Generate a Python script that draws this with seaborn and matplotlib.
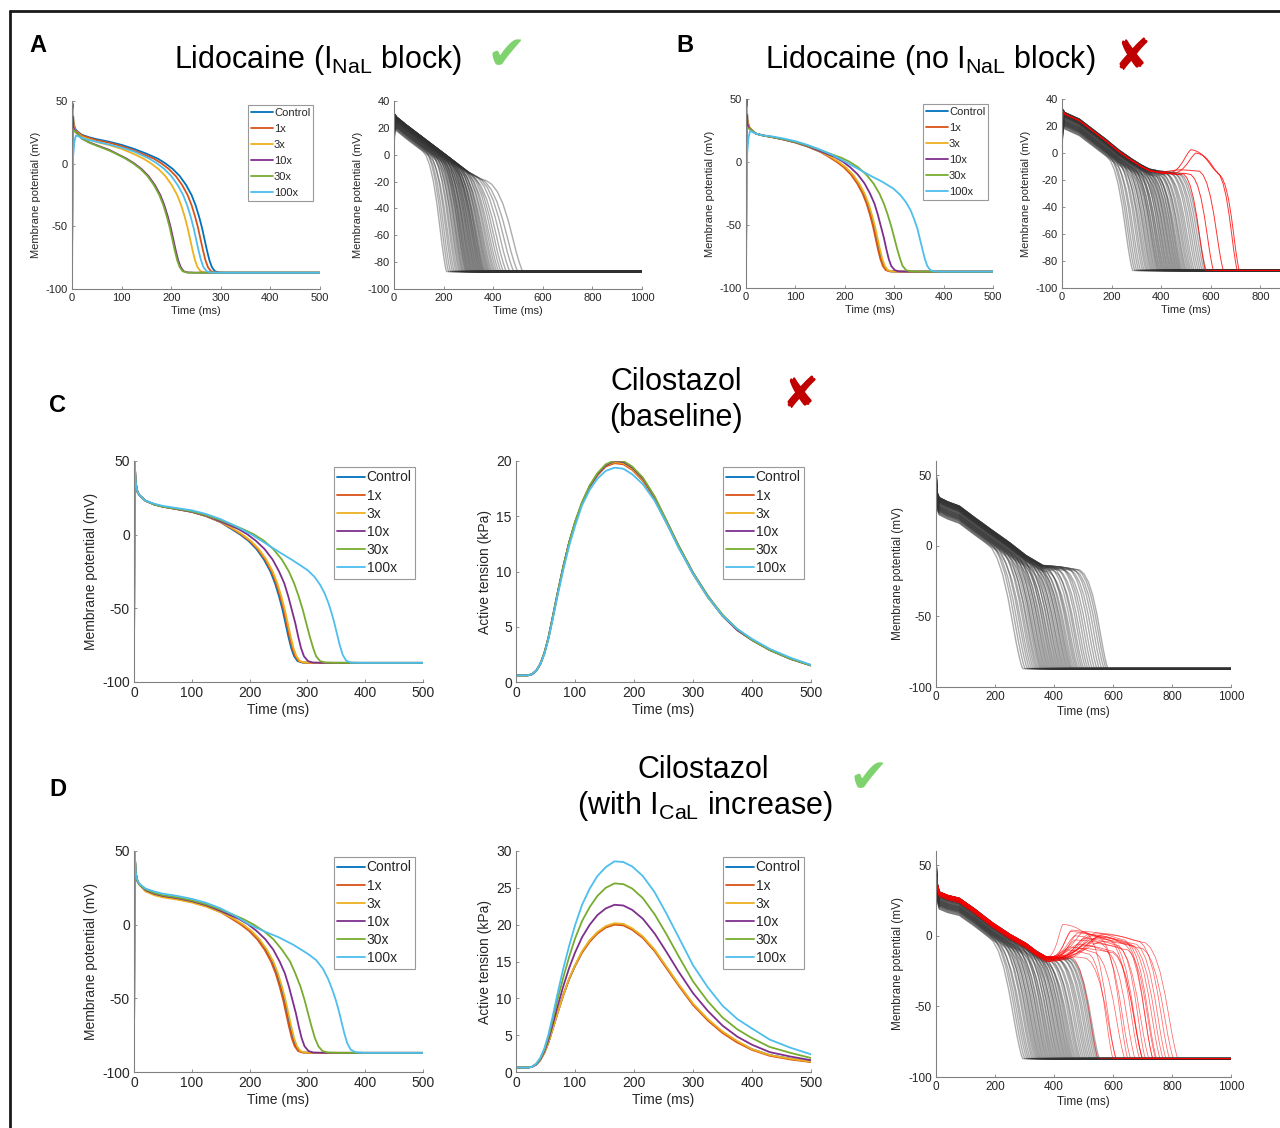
import numpy as np
import pandas as pd
import matplotlib
matplotlib.use("Agg")
import matplotlib.pyplot as plt
from matplotlib.lines import Line2D
import seaborn as sns

sns.set_theme(style="white")
plt.rcParams['font.family'] = ['Liberation Sans', 'DejaVu Sans']
plt.rcParams['mathtext.default'] = 'regular'
plt.rcParams['axes.unicode_minus'] = False

# ---------------- data ----------------
series = ["Control", "1x", "3x", "10x", "30x", "100x"]
series_colors = ["#0072BD", "#D95319", "#EDB120", "#7E2F8E", "#77AC30", "#4DBEEE"]
REST = -87

# A: Lidocaine (INaL block) - action potentials (ms, mV)
a_ap_t = [
    [0, 1, 3, 6, 10, 20, 35, 50, 75, 100, 125, 150, 173, 188, 203, 217, 230, 241, 249, 256, 262, 267, 272, 277, 282, 288, 296, 311, 500],
    [0, 1, 3, 6, 10, 20, 35, 50, 75, 100, 125, 150, 165, 180, 195, 209, 222, 233, 241, 248, 254, 259, 264, 269, 274, 280, 288, 303, 500],
    [0, 1, 3, 6, 10, 20, 35, 50, 75, 100, 125, 144, 159, 174, 188, 201, 212, 220, 227, 233, 238, 243, 248, 253, 259, 267, 282, 500],
    [0, 1, 3, 6, 10, 20, 35, 50, 75, 95, 110, 125, 140, 154, 167, 178, 186, 193, 199, 204, 209, 214, 219, 225, 233, 248, 500],
    [0, 1, 3, 6, 10, 20, 35, 50, 75, 95, 108, 123, 138, 152, 165, 176, 184, 191, 197, 202, 207, 212, 217, 223, 231, 246, 500],
    [0, 2, 5, 8, 12, 20, 35, 50, 75, 100, 125, 156, 171, 186, 200, 213, 224, 232, 239, 245, 250, 255, 260, 265, 271, 279, 294, 500],
]
a_ap_v = [
    [-87, 48, 33, 28, 26, 23, 21, 19.5, 17.5, 15, 11.8, 8, 4, 0.3, -4.2, -9.8, -17, -25, -33, -42, -51, -60, -69, -77, -82.5, -85.8, -86.8, -87, -87],
    [-87, 45, 32, 27, 25.5, 22.5, 20.5, 18.7, 16.7, 14, 10.5, 6.5, 4, 0.3, -4.2, -9.8, -17, -25, -33, -42, -51, -60, -69, -77, -82.5, -85.8, -86.8, -87, -87],
    [-87, 44, 31, 26.5, 25, 21.5, 19.3, 17.3, 14.8, 11.8, 7.7, 4, 0.3, -4.2, -9.8, -17, -25, -33, -42, -51, -60, -69, -77, -82.5, -85.8, -86.8, -87, -87],
    [-87, 38, 29, 26, 24.5, 20, 17, 14.7, 11, 7, 4, 0.3, -4.2, -9.8, -17, -25, -33, -42, -51, -60, -69, -77, -82.5, -85.8, -86.8, -87, -87],
    [-87, 28, 27, 25.5, 24, 20, 16.7, 14.3, 10.5, 6.7, 4, 0.3, -4.2, -9.8, -17, -25, -33, -42, -51, -60, -69, -77, -82.5, -85.8, -86.8, -87, -87],
    [-87, 5, 18, 22.5, 22, 20.5, 18.8, 17.5, 15.3, 12.8, 9.7, 4, 0.3, -4.2, -9.8, -17, -25, -33, -42, -51, -60, -69, -77, -82.5, -85.8, -86.8, -87, -87],
]

# B: Lidocaine (no INaL block)
b_ap_t = [
    [0, 1, 3, 6, 10, 20, 35, 50, 75, 100, 125, 150, 170, 185, 200, 214, 227, 238, 246, 253, 259, 264, 269, 274, 279, 285, 293, 308, 500],
    [0, 1, 3, 6, 10, 20, 35, 50, 75, 100, 125, 150, 168, 183, 198, 212, 225, 236, 244, 251, 257, 262, 267, 272, 277, 283, 291, 306, 500],
    [0, 1, 3, 6, 10, 20, 35, 50, 75, 100, 125, 150, 172, 187, 202, 216, 229, 240, 248, 255, 261, 266, 271, 276, 281, 287, 295, 310, 500],
    [0, 1, 3, 6, 10, 20, 35, 50, 75, 100, 125, 150, 180, 196, 211, 226, 240, 251, 260, 267, 273, 279, 284, 289, 294, 301, 309, 325, 500],
    [0, 1, 3, 6, 10, 20, 35, 50, 75, 100, 125, 150, 172, 192, 209, 227, 243, 258, 270, 279, 287, 294, 300, 306, 312, 317, 324, 333, 351, 500],
    [0, 2, 5, 8, 12, 20, 35, 50, 75, 100, 125, 150, 175, 202, 225, 250, 275, 298, 312, 324, 334, 341, 347, 352, 357, 362, 367, 373, 381, 396, 500],
]
b_ap_v = [
    [-87, 50, 33, 28, 26, 22.5, 21, 20, 18, 15.5, 12.3, 8.2, 4, 0.3, -4.2, -9.8, -17, -25, -33, -42, -51, -60, -69, -77, -82.5, -85.8, -86.8, -87, -87],
    [-87, 47, 33, 28, 26, 22.5, 21, 20, 18, 15.5, 12.3, 8.2, 4, 0.3, -4.2, -9.8, -17, -25, -33, -42, -51, -60, -69, -77, -82.5, -85.8, -86.8, -87, -87],
    [-87, 44, 32, 28, 26, 22.5, 21, 20, 18, 15.5, 12.3, 8.2, 4, 0.3, -4.2, -9.8, -17, -25, -33, -42, -51, -60, -69, -77, -82.5, -85.8, -86.8, -87, -87],
    [-87, 38, 30, 27, 25.5, 22.5, 21, 20, 18, 15.7, 12.5, 8.6, 4, 0.3, -4.2, -9.8, -17, -25, -33, -42, -51, -60, -69, -77, -82.5, -85.8, -86.8, -87, -87],
    [-87, 28, 27, 26.5, 25.5, 22.5, 21, 20, 18.2, 16, 13, 9.6, 6.3, 3.5, 0.3, -4.2, -9.8, -17, -25, -33, -42, -51, -60, -69, -77, -82.5, -85.8, -86.8, -87, -87],
    [-87, 5, 19, 24.5, 24, 22.5, 21, 20.5, 18.7, 16.5, 13.5, 9.8, 5.5, 0, -5, -10.5, -15.5, -21, -26, -32, -39, -46, -53, -61, -69, -77, -82.5, -85.8, -86.8, -87, -87],
]

# C: Cilostazol (baseline)
c_ap_t = [
    [0, 1, 3, 6, 10, 20, 35, 50, 75, 100, 125, 150, 168, 183, 198, 212, 225, 236, 244, 251, 257, 262, 267, 272, 277, 283, 291, 306, 500],
    [0, 1, 3, 6, 10, 20, 35, 50, 75, 100, 125, 150, 170, 185, 200, 214, 227, 238, 246, 253, 259, 264, 269, 274, 279, 285, 293, 308, 500],
    [0, 1, 3, 6, 10, 20, 35, 50, 75, 100, 125, 150, 172, 187, 202, 216, 229, 240, 248, 255, 261, 266, 271, 276, 281, 287, 295, 310, 500],
    [0, 1, 3, 6, 10, 20, 35, 50, 75, 100, 125, 150, 180, 196, 211, 226, 240, 251, 260, 267, 273, 279, 284, 289, 294, 301, 309, 325, 500],
    [0, 1, 3, 6, 10, 20, 35, 50, 75, 100, 125, 150, 170, 190, 207, 225, 241, 256, 268, 277, 285, 292, 298, 304, 310, 315, 322, 331, 349, 500],
    [0, 1, 3, 6, 10, 20, 35, 50, 75, 100, 125, 150, 175, 204, 228, 250, 275, 300, 312, 322, 330, 336, 341, 346, 351, 356, 361, 367, 375, 390, 500],
]
c_ap_v = [
    [-87, 50, 35, 29, 26.5, 23, 20.5, 19, 17.3, 15.5, 12.6, 8.4, 4, 0.3, -4.2, -9.8, -17, -25, -33, -42, -51, -60, -69, -77, -82.5, -85.8, -86.8, -87, -87],
    [-87, 50, 35, 29, 26.5, 23, 20.5, 19, 17.3, 15.5, 12.6, 8.5, 4, 0.3, -4.2, -9.8, -17, -25, -33, -42, -51, -60, -69, -77, -82.5, -85.8, -86.8, -87, -87],
    [-87, 50, 35, 29, 26.5, 23, 20.5, 19, 17.3, 15.5, 12.6, 8.7, 4, 0.3, -4.2, -9.8, -17, -25, -33, -42, -51, -60, -69, -77, -82.5, -85.8, -86.8, -87, -87],
    [-87, 50, 35, 29, 26.5, 23, 20.5, 19, 17.3, 15.5, 12.8, 9.0, 4, 0.3, -4.2, -9.8, -17, -25, -33, -42, -51, -60, -69, -77, -82.5, -85.8, -86.8, -87, -87],
    [-87, 50, 35, 29, 26.5, 23, 20.5, 19, 17.5, 15.8, 13.2, 9.8, 6.7, 3.5, 0.3, -4.2, -9.8, -17, -25, -33, -42, -51, -60, -69, -77, -82.5, -85.8, -86.8, -87, -87],
    [-87, 50, 35, 29, 26.5, 23, 21, 19.5, 18, 16.5, 14, 10.5, 6, 0, -6, -11.5, -17.5, -24, -28.5, -34, -40, -46, -52, -59, -67, -75, -81.5, -85.5, -86.8, -87, -87],
]

# D: Cilostazol (with ICaL increase)
d_ap_t = [
    [0, 1, 3, 6, 10, 20, 35, 50, 75, 100, 125, 150, 171, 186, 201, 215, 228, 239, 247, 254, 260, 265, 270, 275, 280, 286, 294, 309, 500],
    [0, 1, 3, 6, 10, 20, 35, 50, 75, 100, 125, 150, 169, 184, 199, 213, 226, 237, 245, 252, 258, 263, 268, 273, 278, 284, 292, 307, 500],
    [0, 1, 3, 6, 10, 20, 35, 50, 75, 100, 125, 150, 173, 188, 203, 217, 230, 241, 249, 256, 262, 267, 272, 277, 282, 288, 296, 311, 500],
    [0, 1, 3, 6, 10, 20, 35, 50, 75, 100, 125, 150, 181, 197, 212, 227, 241, 252, 261, 268, 274, 280, 285, 290, 295, 302, 310, 326, 500],
    [0, 1, 3, 6, 10, 20, 35, 50, 75, 100, 125, 150, 170, 188, 206, 224, 241, 256, 270, 279, 288, 295, 301, 307, 313, 319, 326, 336, 354, 500],
    [0, 1, 3, 6, 10, 20, 35, 50, 75, 100, 125, 150, 175, 200, 225, 250, 275, 300, 315, 327, 336, 343, 349, 354, 359, 364, 369, 375, 383, 398, 500],
]
d_ap_v = [
    [-87, 50, 35, 29.5, 27, 23.5, 21, 19.5, 18, 16, 13, 8.8, 4, 0.3, -4.2, -9.8, -17, -25, -33, -42, -51, -60, -69, -77, -82.5, -85.8, -86.8, -87, -87],
    [-87, 50, 35, 29.5, 27, 23, 20.5, 19, 17.5, 15.5, 12.5, 8.5, 4, 0.3, -4.2, -9.8, -17, -25, -33, -42, -51, -60, -69, -77, -82.5, -85.8, -86.8, -87, -87],
    [-87, 50, 35, 29.5, 27, 22.5, 20, 18.5, 17, 15, 12.2, 8.4, 4, 0.3, -4.2, -9.8, -17, -25, -33, -42, -51, -60, -69, -77, -82.5, -85.8, -86.8, -87, -87],
    [-87, 50, 35, 29.5, 27, 23.5, 21, 19.5, 18, 16, 13.2, 9.3, 4, 0.3, -4.2, -9.8, -17, -25, -33, -42, -51, -60, -69, -77, -82.5, -85.8, -86.8, -87, -87],
    [-87, 50, 35, 29.5, 27, 24, 21.5, 20, 18.5, 16.5, 13.8, 10.2, 7, 4, 0.3, -4.2, -9.8, -17, -25, -33, -42, -51, -60, -69, -77, -82.5, -85.8, -86.8, -87, -87],
    [-87, 50, 35, 30, 27.5, 24.5, 22.5, 21, 19.5, 17.5, 14.8, 11, 6, 0, -4.5, -8.5, -13.5, -19.6, -24, -30, -37, -44, -51, -58, -66, -74, -80.5, -84.8, -86.6, -87, -87],
]

# active tension (kPa)
ten_t = [0, 20, 27, 34, 41, 48, 55, 62, 70, 80, 90, 100, 112, 125, 138, 152,
         167, 182, 197, 215, 235, 255, 275, 300, 325, 350, 375, 400, 430, 465, 500]
c_ten = [
    [0.6, 0.6, 0.7, 1.0, 1.6, 2.6, 4.0, 5.8, 7.9, 10.4, 12.6, 14.4, 16.2, 17.7, 18.8, 19.6, 19.9, 19.8, 19.3, 18.3, 16.6, 14.5, 12.3, 9.8, 7.7, 6.0, 4.7, 3.8, 2.9, 2.1, 1.5],
    [0.6, 0.6, 0.7, 1.0, 1.6, 2.6, 4.0, 5.8, 7.9, 10.4, 12.6, 14.4, 16.2, 17.7, 18.7, 19.5, 19.8, 19.7, 19.2, 18.2, 16.5, 14.4, 12.3, 9.8, 7.7, 6.0, 4.7, 3.8, 2.9, 2.1, 1.5],
    [0.6, 0.6, 0.7, 1.0, 1.6, 2.6, 4.0, 5.8, 7.9, 10.4, 12.6, 14.4, 16.2, 17.7, 18.8, 19.6, 19.9, 19.8, 19.3, 18.3, 16.6, 14.5, 12.3, 9.8, 7.7, 6.0, 4.7, 3.8, 2.9, 2.1, 1.5],
    [0.6, 0.6, 0.7, 1.0, 1.6, 2.6, 4.0, 5.8, 7.9, 10.4, 12.6, 14.4, 16.2, 17.7, 18.8, 19.6, 20.0, 19.9, 19.4, 18.4, 16.7, 14.6, 12.4, 9.9, 7.8, 6.0, 4.7, 3.8, 2.9, 2.1, 1.5],
    [0.6, 0.6, 0.7, 1.0, 1.6, 2.6, 4.0, 5.8, 7.9, 10.4, 12.6, 14.5, 16.3, 17.8, 18.9, 19.7, 20.05, 20.0, 19.5, 18.5, 16.8, 14.6, 12.4, 9.9, 7.8, 6.1, 4.8, 3.8, 2.9, 2.1, 1.5],
    [0.6, 0.6, 0.7, 1.0, 1.6, 2.5, 3.9, 5.6, 7.7, 10.1, 12.3, 14.1, 16.0, 17.4, 18.4, 19.1, 19.4, 19.3, 18.8, 17.9, 16.4, 14.4, 12.2, 9.8, 7.7, 6.0, 4.8, 3.9, 3.0, 2.2, 1.55],
]
d_ten = [
    [0.6, 0.6, 0.7, 1.0, 1.6, 2.6, 4.0, 5.8, 7.9, 10.4, 12.6, 14.4, 16.3, 17.8, 18.9, 19.7, 20.1, 20.0, 19.4, 18.3, 16.5, 14.2, 11.9, 9.2, 7.1, 5.4, 4.1, 3.1, 2.3, 1.8, 1.4],
    [0.6, 0.6, 0.7, 1.0, 1.6, 2.6, 4.0, 5.8, 7.9, 10.4, 12.6, 14.4, 16.2, 17.7, 18.8, 19.6, 20.0, 19.9, 19.3, 18.2, 16.4, 14.1, 11.8, 9.1, 7.0, 5.3, 4.0, 3.0, 2.2, 1.7, 1.35],
    [0.6, 0.6, 0.7, 1.0, 1.6, 2.6, 4.0, 5.8, 7.9, 10.4, 12.7, 14.5, 16.4, 17.9, 19.0, 19.8, 20.2, 20.1, 19.5, 18.4, 16.6, 14.3, 12.0, 9.3, 7.2, 5.5, 4.2, 3.1, 2.3, 1.8, 1.4],
    [0.6, 0.6, 0.7, 1.0, 1.7, 2.8, 4.4, 6.4, 8.8, 11.6, 14.1, 16.2, 18.3, 20.0, 21.3, 22.2, 22.7, 22.6, 22.0, 20.8, 18.8, 16.3, 13.7, 10.7, 8.3, 6.3, 4.8, 3.7, 2.7, 2.1, 1.6],
    [0.6, 0.6, 0.7, 1.1, 1.8, 3.0, 4.8, 7.0, 9.7, 12.8, 15.6, 18.1, 20.5, 22.4, 23.9, 25.0, 25.6, 25.5, 24.9, 23.6, 21.4, 18.7, 15.8, 12.3, 9.6, 7.4, 5.8, 4.6, 3.4, 2.6, 1.9],
    [0.6, 0.6, 0.7, 1.1, 1.9, 3.2, 5.1, 7.5, 10.5, 14.0, 17.1, 19.9, 22.7, 24.9, 26.6, 27.8, 28.6, 28.5, 27.9, 26.6, 24.4, 21.5, 18.4, 14.5, 11.5, 9.0, 7.2, 5.9, 4.4, 3.3, 2.4],
]

# populations of models: shared upper path, each model leaves it at its knee
a_path_t = [0, 1, 3, 10, 50, 100, 150, 200, 250, 300, 350, 400, 450, 500]
a_path_v = [-87, 20, 30, 28, 22, 15, 8, 1, -6, -13, -18, -21, -24, -27]
a_pop_knee = [115, 122, 129, 135, 141, 147, 152, 157, 161, 165,
              168, 171, 174, 177, 179, 181, 183, 186, 188, 190,
              193, 195, 197, 199, 202, 204, 206, 208, 211, 213,
              215, 217, 220, 222, 224, 226, 229, 231, 233, 235,
              238, 241, 245, 248, 251, 255, 259, 264, 269, 275,
              281, 289, 297, 307, 318, 331, 345, 372]
a_pop_end = [212, 220, 228, 236, 243, 250, 256, 262, 267, 272,
             276, 280, 284, 288, 291, 294, 297, 300, 303, 306,
             309, 312, 315, 318, 321, 324, 327, 330, 333, 336,
             339, 342, 345, 348, 351, 354, 357, 360, 363, 366,
             370, 374, 378, 382, 386, 391, 396, 402, 408, 415,
             423, 432, 442, 454, 468, 484, 500, 520]
a_pop_shift = [-10, -8, -9, -7, -10, -6, -8, -5, -9, -7,
               -4, -8, -6, -3, -7, -5, -2, -7, -4, -6,
               -1, -5, -3, -6, -2, -4, 0, -5, -3, -1,
               -4, -2, 0, -3, -1, -2, -4, 0, -2, -1,
               -3, 0, -1, -2, 0, -1, -2, 0, -1, 0,
               -1, 0, 0, -1, 0, 0, 0, 0]

b_path_t = [0, 1, 4, 10, 70, 120, 177, 230, 285, 320, 352, 392, 450, 520, 600]
b_path_v = [-87, 20, 32, 30, 25, 18, 10, 2, -5, -9, -12, -13.5, -14.5, -16, -18]
b_pop_knee = [180, 187, 195, 204, 212, 219, 227, 233, 240, 246,
              251, 257, 262, 267, 271, 277, 281, 285, 289, 292,
              297, 301, 305, 308, 313, 317, 321, 325, 329, 333,
              337, 341, 344, 349, 353, 357, 361, 365, 369, 373,
              377, 382, 387, 392, 397, 403, 409, 415, 422, 429,
              437, 445, 453, 461, 469, 477]
b_pop_end = [285, 293, 301, 309, 317, 325, 332, 339, 345, 351,
             357, 362, 367, 372, 377, 382, 386, 390, 394, 398,
             402, 406, 410, 414, 418, 422, 426, 430, 434, 438,
             442, 446, 450, 454, 458, 462, 466, 470, 474, 478,
             482, 487, 492, 497, 502, 508, 514, 520, 527, 534,
             542, 550, 558, 566, 574, 582]
pop_shift = [-12, -10, -11, -9, -12, -8, -10, -7, -11, -9,
             -6, -10, -8, -5, -9, -7, -4, -9, -6, -8,
             -3, -7, -5, -8, -3, -6, -2, -7, -4, -2,
             -6, -3, -1, -5, -3, -2, -4, -1, -3, 0,
             -2, -4, -1, 0, -3, -1, -2, 0, -1, -2,
             0, -1, 0, -1, 0, 0]
# red models with early afterdepolarisations (B)
b_red_rise = [430, 445, 380, 470, 480]
b_red_peak_t = [520, 540, 470, 475, 485]
b_red_peak_v = [2.5, 0, -12.5, -15, -15]
b_red_fall_t = [625, 635, 555, 490, 520]
b_red_fall_v = [-14, -16, -13.5, -15.5, -16]
b_red_end = [707, 715, 651, 579, 611]

c_path_t = [0, 1, 3, 11, 40, 79, 130, 192, 250, 305, 362, 420, 510, 600]
c_path_v = [-87, 50, 38, 34, 31, 28, 20, 10.6, 2, -7, -14, -15, -18, -20]
c_pop_knee = [170, 178, 187, 195, 202, 209, 215, 221, 226, 232,
              236, 241, 245, 250, 254, 259, 263, 268, 272, 277,
              281, 286, 291, 295, 300, 304, 309, 313, 318, 322,
              327, 331, 336, 340, 345, 349, 354, 358, 364, 370,
              375, 381, 387, 394, 400, 408, 415, 423, 431, 440,
              448, 457, 465, 474, 481, 488]
c_pop_end = [294, 302, 310, 317, 324, 330, 336, 341, 346, 351,
             355, 359, 363, 367, 371, 375, 379, 383, 387, 391,
             395, 399, 403, 407, 411, 415, 419, 423, 427, 431,
             435, 439, 443, 447, 451, 455, 459, 463, 468, 473,
             478, 483, 489, 495, 501, 508, 515, 522, 530, 538,
             546, 554, 562, 570, 577, 583]

d_path_t = [0, 1, 3, 11, 40, 79, 130, 192, 250, 305, 340, 373, 420, 510, 600]
d_path_v = [-87, 50, 38, 31, 28.5, 26.5, 19, 9, 1, -5.5, -11, -15, -15.5, -17, -19]
d_pop_knee = [176, 183, 191, 197, 204, 210, 216, 221, 226, 231,
              235, 240, 244, 248, 253, 257, 262, 266, 270, 275,
              279, 284, 288, 293, 297, 301, 306, 310, 315, 319,
              323, 328, 332, 337, 341, 346, 350, 354, 359, 363,
              369, 374, 380, 385, 390, 397, 403, 410, 416, 422,
              429, 435, 442, 448, 454, 459]
d_pop_end = [294, 301, 308, 314, 320, 326, 331, 336, 341, 345,
             349, 353, 357, 361, 365, 369, 373, 377, 381, 385,
             389, 393, 397, 401, 405, 409, 413, 417, 421, 425,
             429, 433, 437, 441, 445, 449, 453, 457, 461, 465,
             470, 475, 480, 485, 490, 496, 502, 508, 514, 520,
             526, 532, 538, 544, 549, 554]
# red models with early afterdepolarisations (D)
d_red_shift = [0, -1, -2, 0, -1, -3, 0, -2, -1, 0, -2, -1, 0, -3, -1, 0, -2, -1, 0, -2, -1, 0, -3, -1]
d_red_rise = [380, 385, 390, 395, 400, 385, 410, 420, 400, 390, 380, 400, 410, 395, 420, 380, 373,
              373, 390, 400, 415, 405, 385, 395]
d_red_peak_t = [430, 460, 480, 500, 520, 470, 540, 560, 510, 480, 450, 530, 560, 500, 550, 440, 420,
                470, 470, 500, 545, 515, 455, 490]
d_red_peak_v = [8, 4, 2, 3, 0, -3, 2, 1, -5, -6, -8, -2, -4, -7, 0, -10, -14, -15, 0, -2, -1, 1, 3, -9]
d_red_fall_t = [510, 560, 600, 640, 660, 620, 690, 710, 650, 580, 540, 670, 700, 600, 640, 520, 460,
                510, 560, 620, 680, 650, 590, 600]
d_red_fall_v = [2, -2, -4, -3, -6, -8, -4, -5, -10, -11, -12, -7, -9, -11, -6, -13, -15, -16, -5, -7,
                -6, -5, -3, -12]
d_red_end = [610, 650, 700, 735, 760, 722, 792, 820, 745, 675, 640, 770, 805, 700, 735, 600, 549,
             612, 660, 710, 780, 748, 690, 700]

# shape of one voltage step (fraction of duration, fraction of change)
step_u = [0, 0.15, 0.3, 0.45, 0.6, 0.72, 0.82, 0.9, 0.96, 1.0]
step_w = [0, 0.04, 0.12, 0.25, 0.44, 0.63, 0.79, 0.9, 0.97, 1.0]


# ---------------- helpers ----------------
def step(t0, v0, t1, v1):
    u = np.array(step_u[1:])
    w = np.array(step_w[1:])
    return list(t0 + u * (t1 - t0)), list(v0 + w * (v1 - v0))


def upper_path(path_t, path_v, shift, stop):
    pt = np.array(path_t, float)
    pv = np.where(pt > 0, np.array(path_v, float) + shift, path_v)
    keep = pt < stop
    vs = float(np.interp(stop, pt, pv))
    return list(pt[keep]) + [stop], list(pv[keep]) + [vs]


def pop_frame(path_t, path_v, knees, ends, shifts):
    parts = []
    for i, (k, e, s) in enumerate(zip(knees, ends, shifts)):
        tt, vv = upper_path(path_t, path_v, s, k)
        st, sv = step(k, vv[-1], e, REST)
        tt += st + [1000]
        vv += sv + [REST]
        parts.append(pd.DataFrame({"t": tt, "v": vv, "trace": i}))
    return pd.concat(parts, ignore_index=True)


def ead_frame(path_t, path_v, shifts, rise, pk_t, pk_v, fl_t, fl_v, ends):
    parts = []
    for i in range(len(rise)):
        tt, vv = upper_path(path_t, path_v, shifts[i], rise[i])
        for (t1, v1) in [(pk_t[i], pk_v[i]), (fl_t[i], fl_v[i]), (ends[i], REST)]:
            st, sv = step(tt[-1], vv[-1], t1, v1)
            tt += st
            vv += sv
        tt.append(1000)
        vv.append(REST)
        parts.append(pd.DataFrame({"t": tt, "v": vv, "trace": i}))
    return pd.concat(parts, ignore_index=True)


def curve_frame(ts, vs):
    parts = [pd.DataFrame({"t": t, "v": v, "series": name}) for name, t, v in zip(series, ts, vs)]
    return pd.concat(parts, ignore_index=True)


W, H = 1280, 1128
fig = plt.figure(figsize=(W / 100, H / 100), dpi=100)


def fx(x):
    return x / W


def fy(y):
    return 1 - y / H


def add_ax(l, t, r, b):
    return fig.add_axes([fx(l), fy(b), (r - l) / W, (b - t) / H])


AXC = "#808080"
TXT = "#262626"


def style(ax, xlim, xticks, ylim, yticks, ylabel, fs):
    ax.set_xlim(xlim)
    ax.set_ylim(ylim)
    ax.set_xticks(xticks)
    ax.set_yticks(yticks)
    sns.despine(ax=ax)
    for s in ["left", "bottom"]:
        ax.spines[s].set_color(AXC)
        ax.spines[s].set_linewidth(0.8)
    ax.tick_params(bottom=True, left=True, direction="in", length=2.5, width=0.6,
                   color=AXC, labelcolor=TXT, labelsize=fs, pad=3)
    ax.set_xlabel("Time (ms)", fontsize=fs, color=TXT, labelpad=2)
    ax.set_ylabel(ylabel, fontsize=fs, color=TXT, labelpad=3)


def draw_curves(ax, ts, vs):
    sns.lineplot(data=curve_frame(ts, vs), x="t", y="v", hue="series", hue_order=series,
                 palette=series_colors, estimator=None, sort=False, linewidth=1.3,
                 legend=False, ax=ax)


def add_legend(ax, right, top, fs, spacing):
    handles = [Line2D([], [], color=c, lw=1.3) for c in series_colors]
    leg = ax.legend(handles, series, loc="upper right", bbox_to_anchor=(fx(right), fy(top)),
                    bbox_transform=fig.transFigure, fontsize=fs, frameon=True, fancybox=False,
                    edgecolor="#999999", framealpha=1, borderaxespad=0, borderpad=0.25,
                    handlelength=2.0, handletextpad=0.1, labelspacing=spacing)
    leg.get_frame().set_linewidth(0.8)
    for t in leg.get_texts():
        t.set_color(TXT)


def draw_pop(ax, df, color, alpha, lw):
    sns.lineplot(data=df, x="t", y="v", units="trace", estimator=None, sort=False,
                 color=color, alpha=alpha, linewidth=lw, legend=False, ax=ax)


MP = "Membrane potential (mV)"
GREY = "#303030"
RED = "#ff0000"
G_ALPHA = 0.4
G_LW = 1.0

# ---------------- panel A ----------------
ax = add_ax(72, 101, 320, 289)
draw_curves(ax, a_ap_t, a_ap_v)
style(ax, (0, 500), range(0, 501, 100), (-100, 50), [-100, -50, 0, 50], MP, 8)
add_legend(ax, 313, 105, 8, 0.55)

ax = add_ax(394, 101, 642, 289)
draw_pop(ax, pop_frame(a_path_t, a_path_v, a_pop_knee, a_pop_end, a_pop_shift), GREY, G_ALPHA, G_LW)
style(ax, (0, 1000), range(0, 1001, 200), (-100, 40), range(-100, 41, 20), MP, 8)

# ---------------- panel B ----------------
ax = add_ax(746, 99, 993, 288)
draw_curves(ax, b_ap_t, b_ap_v)
style(ax, (0, 500), range(0, 501, 100), (-100, 50), [-100, -50, 0, 50], MP, 8)
add_legend(ax, 988, 104, 8, 0.55)

ax = add_ax(1062, 99, 1310, 288)
draw_pop(ax, pop_frame(b_path_t, b_path_v, b_pop_knee, b_pop_end, pop_shift), GREY, G_ALPHA, G_LW)
draw_pop(ax, ead_frame(b_path_t, b_path_v, [-1] * len(b_red_rise), b_red_rise, b_red_peak_t,
                       b_red_peak_v, b_red_fall_t, b_red_fall_v, b_red_end), RED, 0.8, 0.7)
style(ax, (0, 1000), range(0, 801, 200), (-100, 40), range(-100, 41, 20), MP, 8)

# ---------------- panel C ----------------
ax = add_ax(134, 461, 423, 682)
draw_curves(ax, c_ap_t, c_ap_v)
style(ax, (0, 500), range(0, 501, 100), (-100, 50), [-100, -50, 0, 50], MP, 10)
add_legend(ax, 415, 467, 10, 0.3)

ax = add_ax(516, 461, 811, 682)
draw_curves(ax, [ten_t] * 6, c_ten)
style(ax, (0, 500), range(0, 501, 100), (0, 20), range(0, 21, 5), "Active tension (kPa)", 10)
add_legend(ax, 804, 467, 10, 0.3)

ax = add_ax(936, 461, 1231, 687)
draw_pop(ax, pop_frame(c_path_t, c_path_v, c_pop_knee, c_pop_end, pop_shift), GREY, G_ALPHA, G_LW)
style(ax, (0, 1000), range(0, 1001, 200), (-100, 60), [-100, -50, 0, 50], MP, 8.5)

# ---------------- panel D ----------------
ax = add_ax(134, 851, 423, 1072)
draw_curves(ax, d_ap_t, d_ap_v)
style(ax, (0, 500), range(0, 501, 100), (-100, 50), [-100, -50, 0, 50], MP, 10)
add_legend(ax, 415, 857, 10, 0.3)

ax = add_ax(516, 851, 811, 1072)
draw_curves(ax, [ten_t] * 6, d_ten)
style(ax, (0, 500), range(0, 501, 100), (0, 30), range(0, 31, 5), "Active tension (kPa)", 10)
add_legend(ax, 804, 857, 10, 0.3)

ax = add_ax(936, 851, 1231, 1077)
draw_pop(ax, pop_frame(d_path_t, d_path_v, d_pop_knee, d_pop_end, pop_shift), GREY, G_ALPHA, G_LW)
draw_pop(ax, ead_frame(d_path_t, d_path_v, d_red_shift, d_red_rise, d_red_peak_t, d_red_peak_v,
                       d_red_fall_t, d_red_fall_v, d_red_end), RED, 0.6, 0.55)
style(ax, (0, 1000), range(0, 1001, 200), (-100, 60), [-100, -50, 0, 50], MP, 8.5)

# ---------------- titles, letters, marks ----------------
for letter, x, y in [("A", 38, 45), ("B", 685, 45), ("C", 58, 405), ("D", 58, 790)]:
    fig.text(fx(x), fy(y), letter, fontsize=17, fontweight="bold", color="black",
             ha="center", va="center")

title_kw = dict(fontsize=22, color="black", ha="center", va="baseline")
fig.text(fx(318), fy(68), "Lidocaine (I$_{NaL}$ block)", **title_kw)
fig.text(fx(930), fy(68), "Lidocaine (no I$_{NaL}$ block)", **title_kw)
fig.text(fx(676), fy(390), "Cilostazol", **title_kw)
fig.text(fx(676), fy(426), "(baseline)", **title_kw)
fig.text(fx(703), fy(778), "Cilostazol", **title_kw)
fig.text(fx(705), fy(814), "(with I$_{CaL}$ increase)", **title_kw)

GREEN = "#7fd36f"
DARKRED = "#c00000"
mark_kw = dict(ha="center", va="center", family="DejaVu Sans")
fig.text(fx(506), fy(57), "\u2714", color=GREEN, fontsize=34, **mark_kw)
fig.text(fx(1132), fy(57), "\u2718", color=DARKRED, fontsize=32, **mark_kw)
fig.text(fx(800), fy(395), "\u2718", color=DARKRED, fontsize=32, **mark_kw)
fig.text(fx(868), fy(780), "\u2714", color=GREEN, fontsize=34, **mark_kw)

# outer frame (cropped at right and bottom)
fig.add_artist(Line2D([fx(10), fx(10)], [fy(1128), fy(11)], color="#1a1a1a", lw=2))
fig.add_artist(Line2D([fx(10), 1], [fy(11), fy(11)], color="#1a1a1a", lw=2))

fig.savefig("out.png", dpi=100)
